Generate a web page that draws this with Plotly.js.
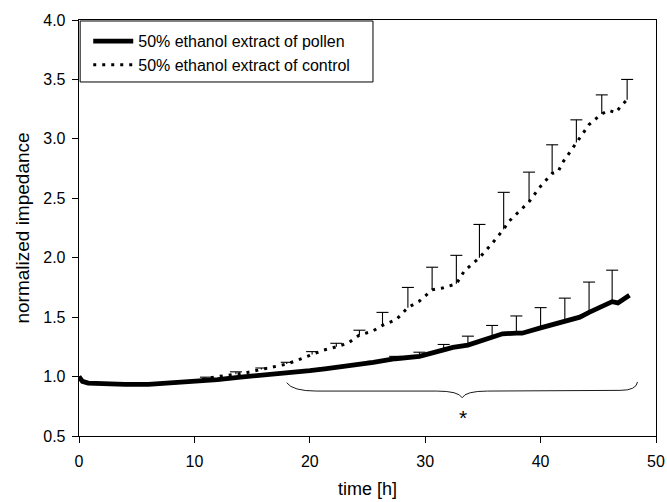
<!DOCTYPE html>
<html><head><meta charset="utf-8">
<script src="https://cdn.plot.ly/plotly-3.0.1.min.js"></script>
<style>html,body{margin:0;padding:0;background:#fff}#chart{width:667px;height:502px}</style>
</head><body><div id="chart"></div>
<script>
// ---- data ----
const seriesNames = ["50% ethanol extract of pollen", "50% ethanol extract of control"];

const timePollen = [0, 0.3, 0.8, 2, 4, 6, 8, 10, 12, 14, 16, 18, 20, 21.3, 23.4, 25.5, 27.4, 28.5, 29.5, 31.6, 32.4, 33.7, 35.0, 35.8, 36.7, 37.9, 38.4, 40.0, 41.6, 42.1, 43.4, 44.2, 44.5, 45.7, 46.2, 46.7, 47.7];
const impedancePollen = [1.0, 0.96, 0.945, 0.94, 0.935, 0.935, 0.945, 0.96, 0.975, 0.995, 1.01, 1.03, 1.05, 1.065, 1.09, 1.12, 1.15, 1.16, 1.17, 1.225, 1.245, 1.265, 1.305, 1.33, 1.36, 1.365, 1.365, 1.41, 1.45, 1.465, 1.50, 1.54, 1.555, 1.615, 1.63, 1.62, 1.685];
const errPollen = [null, null, null, null, null, null, null, null, null, null, null, null, null, 0.008, 0.01, 0.008, 0.02, null, 0.035, 0.045, null, 0.075, null, 0.10, null, 0.145, null, 0.17, null, 0.195, null, 0.255, null, null, 0.265, null, null];

const timeControl = [0, 0.3, 0.8, 2, 4, 6, 8, 10, 11.0, 12.0, 13.6, 14.6, 15.8, 16.8, 18.0, 19.0, 20.2, 21.1, 22.3, 23.3, 24.3, 25.4, 26.3, 27.5, 28.5, 29.5, 30.6, 31.5, 32.7, 33.4, 34.7, 35.8, 36.8, 37.3, 39.0, 39.9, 41.0, 41.5, 41.9, 43.1, 44.2, 44.8, 45.3, 45.9, 46.5, 47.0, 47.5];
const impedanceControl = [1.0, 0.96, 0.945, 0.94, 0.935, 0.935, 0.945, 0.965, 0.985, 1.0, 1.02, 1.035, 1.06, 1.08, 1.105, 1.14, 1.185, 1.22, 1.25, 1.28, 1.35, 1.38, 1.43, 1.48, 1.58, 1.635, 1.73, 1.745, 1.78, 1.89, 2.0, 2.12, 2.24, 2.31, 2.47, 2.59, 2.71, 2.72, 2.80, 2.97, 3.12, 3.17, 3.21, 3.24, 3.22, 3.28, 3.33];
const errControl = [null, null, null, null, null, null, null, null, 0.01, null, 0.02, null, 0.012, null, 0.015, null, 0.025, null, 0.03, null, 0.04, null, 0.11, null, 0.17, null, 0.19, null, 0.24, null, 0.28, null, 0.31, null, 0.25, null, 0.24, null, null, 0.19, null, null, 0.16, null, null, null, 0.17];

const xTickVals = [0, 10, 20, 30, 40, 50];
const yTickVals = [0.5, 1.0, 1.5, 2.0, 2.5, 3.0, 3.5, 4.0];
const xTitle = "time [h]";
const yTitle = "normalized impedance";
const markText = "*";

// ---- build one-sided (upper) error bars with a cap ----
const CAP = 0.52; // half cap width in hours
function errorSegments(t, v, e) {
  const xs = [], ys = [];
  for (let i = 0; i < t.length; i++) {
    if (e[i] == null) continue;
    const top = v[i] + e[i];
    xs.push(t[i], t[i], null, t[i] - CAP, t[i] + CAP, null);
    ys.push(v[i], top, null, top, top, null);
  }
  return {x: xs, y: ys};
}
const ePol = errorSegments(timePollen, impedancePollen, errPollen);
const eCon = errorSegments(timeControl, impedanceControl, errControl);

const FONT = "Liberation Sans, Arial, Helvetica, sans-serif";

const traces = [
  {x: ePol.x, y: ePol.y, mode: "lines", line: {color: "#000", width: 1.1}, showlegend: false, hoverinfo: "skip"},
  {x: eCon.x, y: eCon.y, mode: "lines", line: {color: "#000", width: 1.1}, showlegend: false, hoverinfo: "skip"},
  {x: timeControl, y: impedanceControl, name: seriesNames[1], mode: "lines",
   line: {color: "#000", width: 3, dash: "3px,6px"}, legendrank: 2},
  {x: timePollen, y: impedancePollen, name: seriesNames[0], mode: "lines",
   line: {color: "#000", width: 4.8}, legendrank: 1}
];

// brace under the curves (annotation, data coordinates)
const brace = "M18.0,0.948 Q18.5,0.878 20.6,0.878 L31.0,0.878 Q32.9,0.878 33.2,0.822 Q33.5,0.878 35.4,0.878 L46.9,0.884 Q48.3,0.884 48.4,0.955";

const layout = {
  width: 667, height: 502,
  margin: {l: 79, r: 11, t: 20, b: 66, pad: 0},
  paper_bgcolor: "#fff", plot_bgcolor: "#fff",
  font: {family: FONT, size: 16, color: "#000"},
  showlegend: true,
  legend: {x: 0.016, y: 0.99, xanchor: "left", yanchor: "top",
           bgcolor: "rgba(0,0,0,0)", borderwidth: 0, font: {size: 16, family: FONT},
           traceorder: "normal", itemwidth: 40},
  xaxis: {range: [0, 50], tickvals: xTickVals, ticks: "outside", ticklen: 6, tickwidth: 1,
          tickcolor: "#000", showline: true, linecolor: "#000", linewidth: 1.3, mirror: true,
          showgrid: false, zeroline: false, ticklabelstandoff: 4,
          title: {text: xTitle, font: {size: 18, family: FONT}, standoff: 14}},
  yaxis: {range: [0.5, 4.0], tickvals: yTickVals, tickformat: ".1f", ticks: "outside", ticklen: 6,
          tickwidth: 1, tickcolor: "#000", showline: true, linecolor: "#000", linewidth: 1.3, mirror: true,
          showgrid: false, zeroline: false, ticklabelstandoff: 3,
          title: {text: yTitle, font: {size: 19, family: FONT}, standoff: 8}},
  shapes: [
    {type: "rect", xref: "paper", yref: "paper", x0: 0.002, x1: 0.5095, y0: 0.851, y1: 0.9976,
     line: {color: "#000", width: 1}, fillcolor: "#fff", layer: "below"},
    {type: "path", xref: "x", yref: "y", path: brace, line: {color: "#000", width: 0.9}}
  ],
  annotations: [
    {x: 33.25, y: 0.70, xref: "x", yref: "y", text: markText, showarrow: false,
     font: {size: 21, family: FONT, color: "#000"}, yanchor: "middle", yshift: -5}
  ]
};

Plotly.newPlot("chart", traces, layout, {displayModeBar: false, staticPlot: true});
</script>
</body></html>
